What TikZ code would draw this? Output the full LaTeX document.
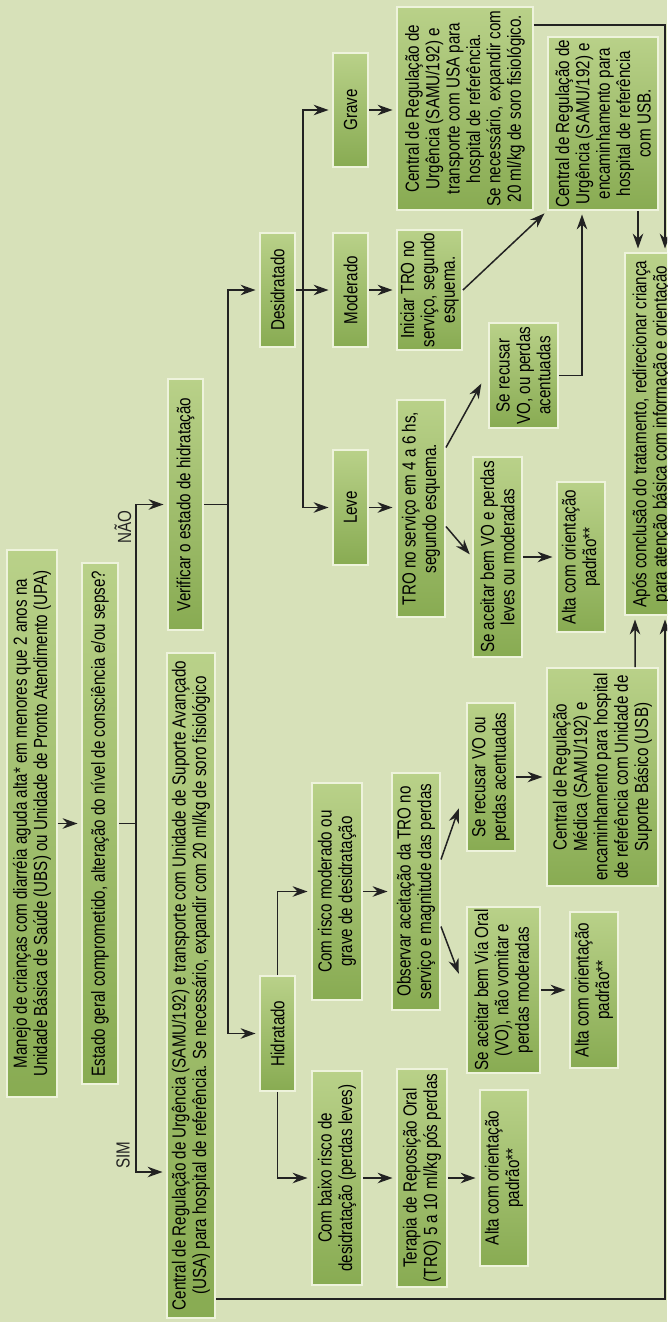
\documentclass[tikz,border=0pt]{standalone}
\usepackage{fontspec}
\setmainfont{Liberation Sans}[FakeStretch=0.8]
\usetikzlibrary{arrows.meta,calc}

\definecolor{bgcol}{HTML}{D7E1B9}
\definecolor{boxlight}{HTML}{B9D189}
\definecolor{boxdark}{HTML}{88AB52}
\definecolor{boxrim}{HTML}{EEF3DC}
\definecolor{linecol}{HTML}{222222}

\tikzset{
  box/.style={rotate=90, draw=boxrim, line width=1.1pt, top color=boxlight,
    bottom color=boxdark, text=black, align=center, inner sep=0pt,
    font=\fontsize{10.8}{11.6}\selectfont},
  boxsize/.style 2 args={minimum width=#1*0.02cm, minimum height=#2*0.02cm},
  conn/.style={draw=linecol, line width=0.85pt},
  arr/.style={conn, -{Stealth[length=8.5pt,width=6pt]}, shorten >=2pt},
  lbl/.style={rotate=90, text=linecol, font=\fontsize{10.8}{11.6}\selectfont},
}

\begin{document}
\begin{tikzpicture}[x=0.02cm, y=-0.02cm]
    \fill[bgcol] (0,0) rectangle (667,1322);
    \useasboundingbox (0,0) rectangle (667,1322);
    \clip (0,0) rectangle (667,1322);

    % first decision
    \node[box, boxsize={547}{50}] (man) at (32,823.5)
        {Manejo de crianças com diarréia aguda alta* em menores que 2 anos na\\
         Unidade Básica de Saúde  (UBS) ou Unidade de Pronto Atendimento (UPA)};
    \node[box, boxsize={521}{36}] (est) at (100,823.5)
        {Estado geral comprometido, alteração do nível de consciência e/ou sepse?};
    \node[box, boxsize={251}{35}] (ver) at (185.5,504.5)
        {Verificar o estado de hidratação};
    \node[box, boxsize={665}{48}] (sim) at (191,985.5)
        {Central de Regulação de Urgência  (SAMU/192) e transporte com Unidade de Suporte Avançado\\
         (USA) para hospital de referência. Se necessário, expandir com 20 ml/kg de soro fisiológico};
    \node[lbl] (nao) at (123,527) {NÃO};
    \node[lbl] (simlbl) at (123,1155) {SIM};

    % hydration state
    \node[box, boxsize={114}{35}] (des) at (277.5,290) {Desidratado};
    \node[box, boxsize={115}{35}] (hid) at (277.5,1033.5) {Hidratado};

    % dehydrated
    \node[box, boxsize={114}{35}] (gra) at (350.5,110) {Grave};
    \node[box, boxsize={114}{35}] (mod) at (350.5,290) {Moderado};
    \node[box, boxsize={115}{35}] (lev) at (350.5,507.5) {Leve};
    \node[box, boxsize={203}{136}] (cgr) at (465,108.5)
        {Central de Regulação de\\ Urgência (SAMU/192) e\\ transporte com  USA para\\
         hospital de referência.\\ Se necessário, expandir com\\ 20 ml/kg de soro fisiológico.};
    \node[box, boxsize={120}{65}] (ini) at (429.5,290)
        {Iniciar TRO no\\ serviço, segundo\\ esquema.};
    \node[box, boxsize={217}{48}] (tro) at (421,508.5)
        {TRO no serviço em 4 a 6 hs,\\ segundo esquema.};
    \node[box, boxsize={105}{69}] (rec1) at (523.5,375.5)
        {Se recusar\\ VO, ou perdas\\ acentuadas};
    \node[box, boxsize={200}{49}] (ace1) at (497.5,557)
        {Se aceitar bem VO e perdas\\ leves ou  moderadas};
    \node[box, boxsize={150}{48}] (alt1) at (581,557)
        {Alta com orientação\\ padrão**};
    \node[box, boxsize={173}{110}] (cen) at (603,123.5)
        {Central de Regulação de\\ Urgência  (SAMU/192) e\\ encaminhamento  para\\
         hospital de referência\\ com USB.};
    \node[box, boxsize={362}{53}] (fin) at (651.5,434)
        {Após conclusão do tratamento, redirecionar criança\\
         para atenção básica com  informação e orientação};

    % hydrated
    \node[box, boxsize={217}{50}] (crm) at (337,891.5)
        {Com risco moderado ou\\ grave de desidratação};
    \node[box, boxsize={214}{50}] (cbr) at (337,1178)
        {Com baixo risco de\\ desidratação (perdas leves)};
    \node[box, boxsize={237}{48}] (obs) at (416,891.5)
        {Observar aceitação da TRO no\\ serviço e magnitude das perdas};
    \node[box, boxsize={218}{50}] (ter) at (422,1178)
        {Terapia de Reposição Oral\\ (TRO) 5 a 10 ml/kg pós perdas};
    \node[box, boxsize={148}{48}] (rec2) at (491,777)
        {Se recusar VO ou\\ perdas acentuadas};
    \node[box, boxsize={166}{73}] (ace2) at (503.5,990)
        {Se aceitar bem Via Oral\\ (VO), não vomitar e\\ perdas moderadas};
    \node[box, boxsize={218}{111}] (cmed) at (602.5,777)
        {Central de Regulação\\ Médica (SAMU/192) e\\ encaminhamento para hospital\\
         de referência com Unidade de\\ Suporte Básico (USB)};
    \node[box, boxsize={156}{48}] (alt2) at (594,990)
        {Alta com orientação\\ padrão**};
    \node[box, boxsize={176}{48}] (alt3) at (504,1178)
        {Alta com orientação\\ padrão**};

    % trunk
    \draw[arr] (man.south) -- (est.north);
    \draw[conn] (est.south) -- (136,823.5) coordinate (ja);
    \draw[arr] (ja) |- (ver.north);
    \draw[arr] (ja) |- (sim.north |- 0,1172);
    \draw[conn] (ver.south) -- (228,504.5) coordinate (jb);
    \draw[arr] (jb) |- (des.north);
    \draw[arr] (jb) |- (hid.north);

    % dehydrated branch
    \draw[conn] (des.south) -- (303,290) coordinate (jc);
    \draw[arr] (jc) |- (gra.north);
    \draw[arr] (jc) -- (mod.north);
    \draw[arr] (jc) |- (lev.north);
    \draw[arr] (gra.south) -- (gra.south -| cgr.north);
    \draw[arr] (mod.south) -- (ini.north);
    \draw[arr] (lev.south) -- (lev.south -| tro.north);
    \draw[arr] ($(tro.south)+(0,-61)$) -- ($(rec1.north)+(-5,5)$);
    \draw[arr] ($(tro.south)+(0,18)$) -- (ace1.north);
    \draw[arr] (ace1.south) -- (alt1.north);
    \draw[arr] (ini.south) -- (cen.north west);
    \draw[arr] (rec1.south) -| ($(cen.west)+(-21,0)$);
    \draw[arr] ($(cen.west)+(35,0)$) -- ($(fin.east)+(-13.5,0)$);
    \draw[arr] ($(cgr.south)+(0,-83.5)$) -| ($(fin.east)+(13.5,0)$);

    % hydrated branch
    \draw[arr] (hid.east) |- (crm.north);
    \draw[arr] (hid.west) |- (cbr.north);
    \draw[arr] (crm.south) -- (obs.north);
    \draw[arr] (cbr.south) -- (ter.north);
    \draw[arr] ($(obs.south)+(0,-32)$) -- ($(rec2.north)+(-6,28)$);
    \draw[arr] ($(obs.south)+(0,35)$) -- ($(ace2.north)+(-6,-13)$);
    \draw[arr] (rec2.south) -- (cmed.north);
    \draw[arr] (ace2.south) -- (alt2.north);
    \draw[arr] (ter.south) -- (alt3.north);
    \draw[arr] ($(cmed.east)+(32.5,0)$) -- ($(fin.west)+(-16.5,0)$);
    \draw[arr] (sim.south |- 0,1299) -| ($(fin.west)+(13.5,0)$);
\end{tikzpicture}
\end{document}
